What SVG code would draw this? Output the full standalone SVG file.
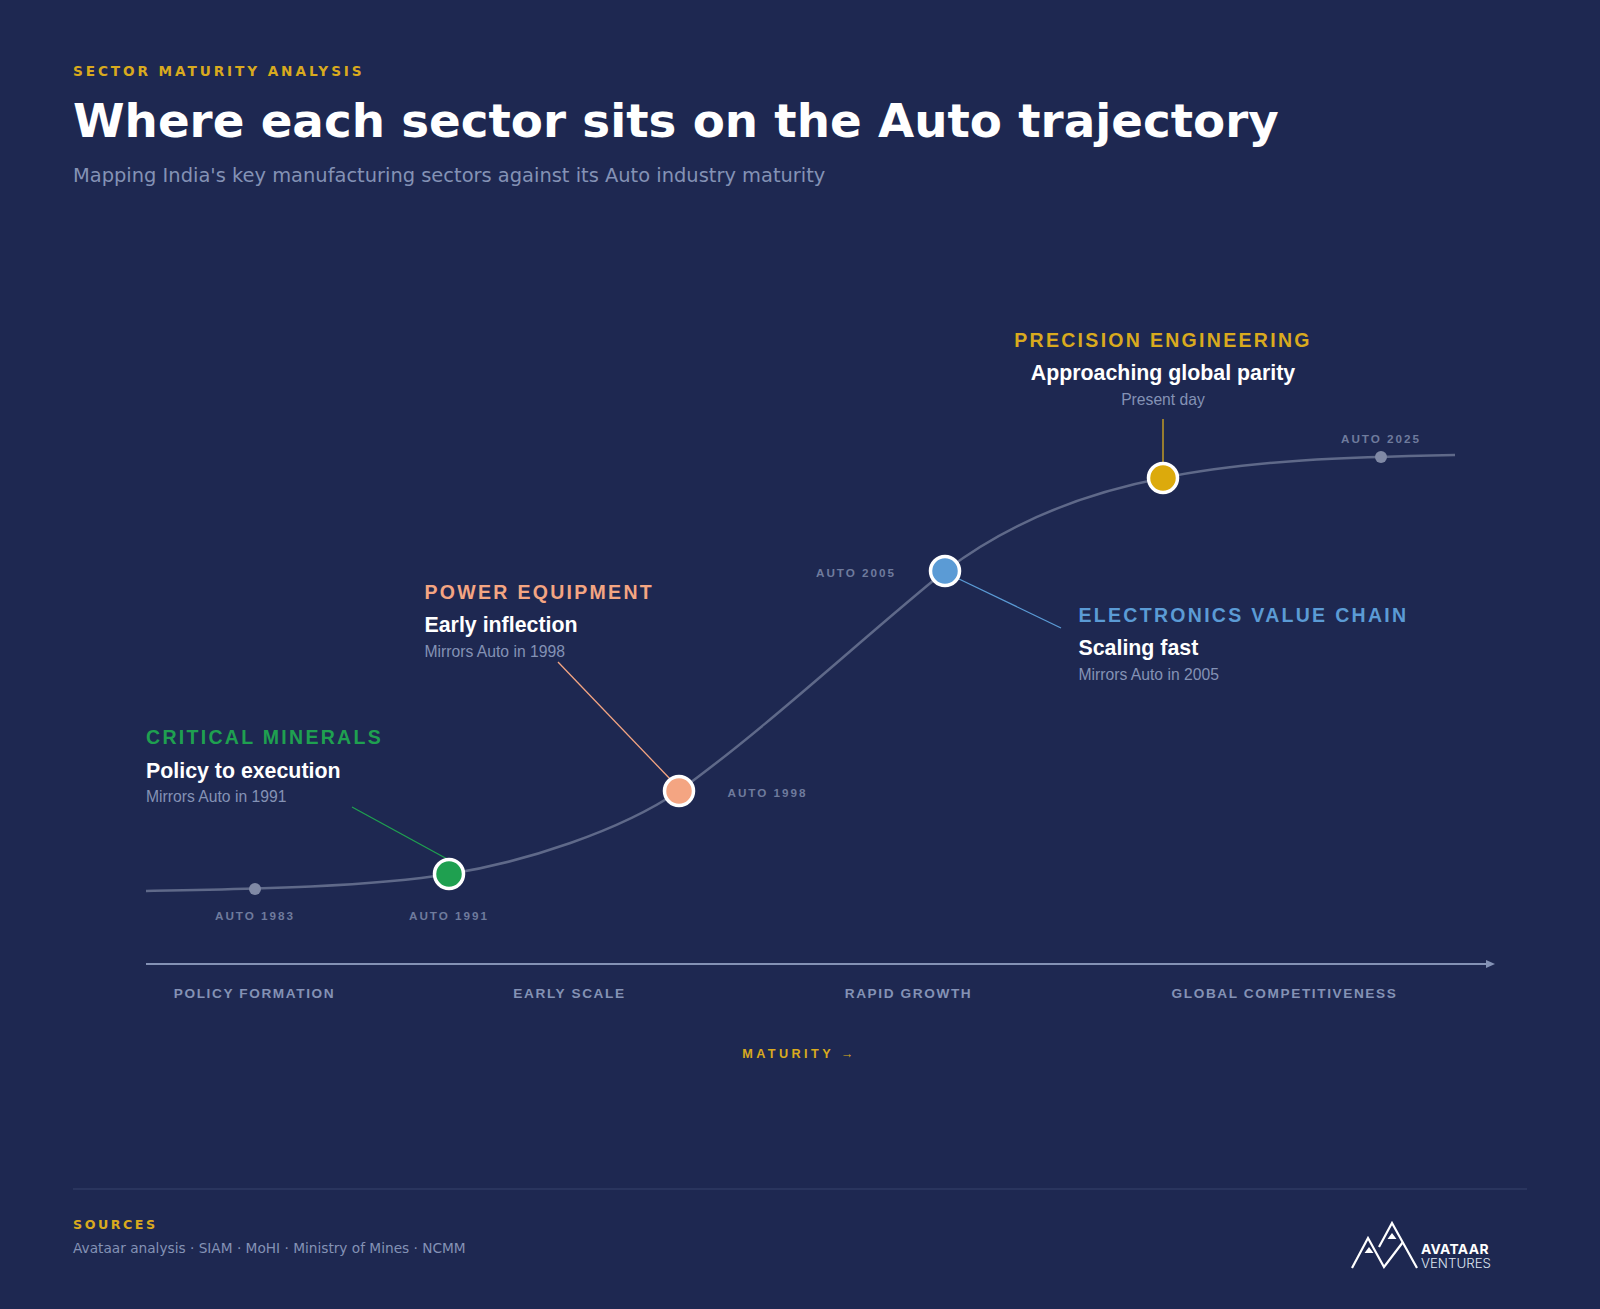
<svg xmlns="http://www.w3.org/2000/svg" width="1600" height="1309" viewBox="0 0 1600 1309">
<style>
.ds{font-family:"DejaVu Sans",sans-serif}
.ls{font-family:"Liberation Sans",Arial,sans-serif}
.name{font-family:"Liberation Sans",Arial,sans-serif;font-size:19.500px;font-weight:700;letter-spacing:2.3px}
.head{font-family:"Liberation Sans",Arial,sans-serif;font-size:21.350px;font-weight:700;fill:#fff}
.sub{font-family:"Liberation Sans",Arial,sans-serif;font-size:15.700px;fill:#8492b5}
.auto{font-family:"Liberation Sans",Arial,sans-serif;font-size:11.700px;font-weight:700;letter-spacing:1.98px;fill:#6f7b9d;text-anchor:middle}
.stage{font-family:"Liberation Sans",Arial,sans-serif;font-size:13.650px;font-weight:700;letter-spacing:1.6px;fill:#8492b5;text-anchor:middle}
.dot{stroke:#fff;stroke-width:3.5}
</style>
<defs><marker id="arr" markerWidth="9" markerHeight="8" refX="0" refY="4" orient="auto" markerUnits="userSpaceOnUse"><path d="M0 0L9 4L0 8Z" fill="#8492b5"/></marker></defs>
<rect width="1600" height="1309" fill="#1e2851"/>
<text x="73" y="76" class="ds" font-size="13.650" font-weight="700" letter-spacing="2.9" fill="#d9aa1e">SECTOR MATURITY ANALYSIS</text>
<text x="73" y="137" class="ds" font-size="46.770" font-weight="700" fill="#fff">Where each sector sits on the Auto trajectory</text>
<text x="73" y="182" class="ds" font-size="19.440" fill="#8492b5">Mapping India's key manufacturing sectors against its Auto industry maturity</text>
<g id="connectors" fill="none">
<path id="curve" d="M146 891C250 889 370 887 449 874C525 862 620 831 679 791C770 725 860 640 945 571C1015 518 1090 492 1163 478C1250 460 1350 457 1455 455" stroke="#5f6989" stroke-width="2.5"/>
<line x1="352" y1="807" x2="449" y2="860" stroke="#1fa050" stroke-width="1.3"/>
<line x1="558" y1="662" x2="672" y2="781" stroke="#f4a582" stroke-width="1.3"/>
<line x1="959" y1="579" x2="1061" y2="628" stroke="#5b9bd5" stroke-width="1.3"/>
<line x1="1163" y1="419" x2="1163" y2="465" stroke="#d9aa1e" stroke-width="1.3"/>
<line id="axis" x1="146" y1="964" x2="1486" y2="964" stroke="#8492b5" stroke-width="2" marker-end="url(#arr)"/>
</g>
<g id="marker-1983"><circle cx="255" cy="889" r="6" fill="#8089a5"/><text x="255" y="920" class="auto">AUTO 1983</text></g>
<g id="marker-2025"><circle cx="1381" cy="457" r="6" fill="#8089a5"/><text x="1381" y="443" class="auto">AUTO 2025</text></g>
<g id="node-minerals"><circle class="dot" cx="449" cy="874" r="14.5" fill="#1fa050"/><text x="449" y="920" class="auto">AUTO 1991</text>
<text x="146" y="744" class="name" fill="#1fa050">CRITICAL MINERALS</text><text x="146" y="778" class="head">Policy to execution</text><text x="146" y="802" class="sub">Mirrors Auto in 1991</text></g>
<g id="node-power"><circle class="dot" cx="679" cy="791" r="14.5" fill="#f4a582"/><text x="767.500" y="797" class="auto">AUTO 1998</text>
<text x="424.500" y="599" class="name" fill="#f4a582">POWER EQUIPMENT</text><text x="424.500" y="632" class="head">Early inflection</text><text x="424.500" y="657" class="sub">Mirrors Auto in 1998</text></g>
<g id="node-electronics"><circle class="dot" cx="945" cy="571" r="14.5" fill="#5b9bd5"/><text x="856" y="577" class="auto">AUTO 2005</text>
<text x="1078.500" y="622" class="name" fill="#5b9bd5">ELECTRONICS VALUE CHAIN</text><text x="1078.500" y="655" class="head">Scaling fast</text><text x="1078.500" y="680" class="sub">Mirrors Auto in 2005</text></g>
<g id="node-precision"><circle class="dot" cx="1163" cy="478" r="14.5" fill="#dcaa0c"/>
<text x="1163" y="347" class="name" fill="#d9aa1e" text-anchor="middle">PRECISION ENGINEERING</text><text x="1163" y="380" class="head" text-anchor="middle">Approaching global parity</text><text x="1163" y="405" class="sub" text-anchor="middle">Present day</text></g>
<g id="stages"><text x="254.500" y="998" class="stage">POLICY FORMATION</text><text x="569.500" y="998" class="stage">EARLY SCALE</text><text x="908.500" y="998" class="stage">RAPID GROWTH</text><text x="1284.500" y="998" class="stage">GLOBAL COMPETITIVENESS</text></g>
<text x="799.500" y="1058" text-anchor="middle" class="ls" font-size="12.700" font-weight="700" letter-spacing="3.4" fill="#d9aa1e">MATURITY →</text>
<line x1="73" y1="1189" x2="1527" y2="1189" stroke="#37426c" stroke-width="1"/>
<text x="73" y="1229" class="ds" font-size="12.700" font-weight="700" letter-spacing="2.5" fill="#d9aa1e">SOURCES</text>
<text x="73" y="1253" class="ds" font-size="13.700" fill="#8492b5">Avataar analysis · SIAM · MoHI · Ministry of Mines · NCMM</text>
<g id="logo"><path d="M1352 1268L1368 1238L1384 1267L1403 1242" fill="none" stroke="#fff" stroke-width="2.2"/><path d="M1379 1247L1392 1223L1417 1268" fill="none" stroke="#fff" stroke-width="2.2"/><path d="M1369 1247L1373.500 1253H1364.500Z M1392 1233L1396.500 1239H1387.500Z" fill="#fff"/>
<text x="1421" y="1253.500" font-family="Inter,sans-serif" font-size="13.800" font-weight="700" letter-spacing=".35" fill="#fff">AVATAAR</text><text x="1421" y="1268" font-family="Inter,sans-serif" font-size="13.300" font-weight="300" fill="#dfe5f2">VENTURES</text></g>
</svg>
